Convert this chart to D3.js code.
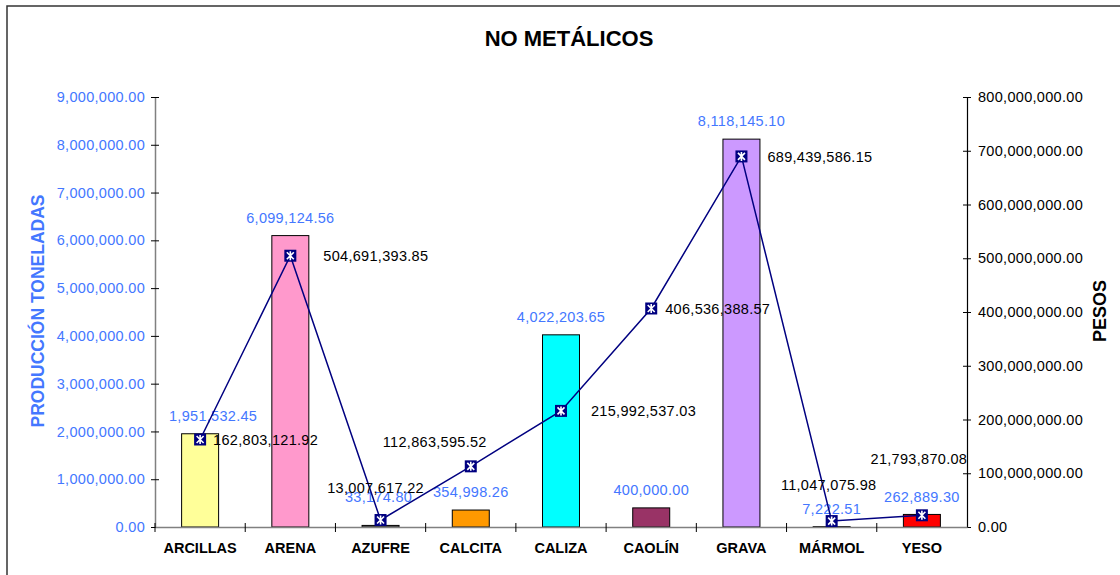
<!DOCTYPE html>
<html>
<head>
<meta charset="utf-8">
<script src="https://cdn.jsdelivr.net/npm/d3@7"></script>
<style>
  body { margin: 0; background: #fff; }
  svg { display: block; font-family: "Liberation Sans", Arial, sans-serif; }
</style>
</head>
<body>
<svg id="chart" width="1120" height="575"></svg>
<script>
// --- data ---
var categories = ['ARCILLAS', 'ARENA', 'AZUFRE', 'CALCITA', 'CALIZA', 'CAOLÍN', 'GRAVA', 'MÁRMOL', 'YESO'];
var toneladas = [1951532.45, 6099124.56, 33174.80, 354998.26, 4022203.65, 400000.00, 8118145.10, 7222.51, 262889.30];
var pesos = [162803121.92, 504691393.85, 13007617.22, 112863595.52, 215992537.03, 406536388.57, 689439586.15, 11047075.98, 21793870.08];
var toneladasTicks = [0, 1000000, 2000000, 3000000, 4000000, 5000000, 6000000, 7000000, 8000000, 9000000];
var pesosTicks = [0, 100000000, 200000000, 300000000, 400000000, 500000000, 600000000, 700000000, 800000000];

// --- look ---
var barColors = ['#FFFF99', '#FF99CC', '#808080', '#FF9900', '#00FFFF', '#993366', '#CC99FF', '#FFFFFF', '#FF0000'];
var blue = '#4477FF';
var navy = '#000080';
// manual label nudges (as moved by hand in the original)
var tonLabelNudge = [[13, 0], [0, 0], [-2, -10], [0, 0], [0, 0], [0, 0], [0, 0], [0, 0], [0, 0]];
var pesosLabelNudge = [[13, 0, 'start'], [33, 0, 'start'], [-5, -32, 'middle'], [-36, -24, 'middle'],
  [30, 0, 'start'], [14, 0, 'start'], [26, 0, 'start'], [-3, -36, 'middle'], [-3, -56, 'middle']];

var fmt = d3.format(',.2f');
var svg = d3.select('#chart');
var plotL = 155, plotR = 967, plotT = 97, plotB = 527;

// frame
svg.append('rect')
  .attr('x', 7).attr('y', 6)
  .attr('width', 1130).attr('height', 590)
  .attr('fill', 'none').attr('stroke', '#333').attr('stroke-width', 1.5);

var x = d3.scaleBand().domain(categories).range([plotL, plotR])
  .paddingInner(0.59).paddingOuter(0.295);
var yTon = d3.scaleLinear().domain([0, 9000000]).range([plotB, plotT]);
var yPes = d3.scaleLinear().domain([0, 800000000]).range([plotB, plotT]);

// left axis
var gl = svg.append('g').attr('transform', 'translate(' + plotL + ',0)')
  .call(d3.axisLeft(yTon).tickValues(toneladasTicks).tickFormat(fmt).tickSizeOuter(0));
gl.select('.domain').attr('stroke', '#808080').attr('stroke-width', 1.5);
gl.selectAll('.tick line').attr('x1', 4).attr('x2', -4).attr('stroke', '#000');
gl.selectAll('.tick text').attr('x', -10).attr('fill', blue)
  .style('font-size', '14.5px').style('letter-spacing', '0.3px');

// right axis
var gr = svg.append('g').attr('transform', 'translate(' + plotR + ',0)')
  .call(d3.axisRight(yPes).tickValues(pesosTicks).tickFormat(fmt).tickSizeOuter(0));
gr.select('.domain').attr('stroke', '#000').attr('stroke-width', 1.2);
gr.selectAll('.tick line').attr('x1', -4).attr('x2', 4).attr('stroke', '#000');
gr.selectAll('.tick text').attr('x', 11).attr('fill', '#000')
  .style('font-size', '14.5px').style('letter-spacing', '0.3px');

// bars
svg.append('g').selectAll('rect')
  .data(categories)
  .enter().append('rect')
    .attr('x', function(d) { return x(d); })
    .attr('y', function(d, i) { return yTon(toneladas[i]); })
    .attr('width', x.bandwidth())
    .attr('height', function(d, i) { return plotB - yTon(toneladas[i]); })
    .attr('fill', function(d, i) { return barColors[i]; })
    .attr('stroke', '#000').attr('stroke-width', 1);

// bottom axis
var gb = svg.append('g').attr('transform', 'translate(0,' + plotB + ')')
  .call(d3.axisBottom(x).tickSize(0).tickPadding(16));
gb.select('.domain').attr('stroke', '#808080').attr('stroke-width', 1.5);
gb.selectAll('.tick text').attr('fill', '#000')
  .style('font-size', '14.5px').style('font-weight', 'bold');
gb.selectAll('.sep')
  .data(d3.range(0, categories.length))
  .enter().append('line')
    .attr('x1', function(i) { return plotL + i * x.step(); })
    .attr('x2', function(i) { return plotL + i * x.step(); })
    .attr('y1', -4).attr('y2', 5)
    .attr('stroke', '#000');

// tonnage labels
svg.append('g').selectAll('text')
  .data(categories)
  .enter().append('text')
    .attr('x', function(d, i) { return x(d) + x.bandwidth() / 2 + tonLabelNudge[i][0]; })
    .attr('y', function(d, i) { return yTon(toneladas[i]) - 18 + tonLabelNudge[i][1]; })
    .attr('dy', '0.35em')
    .attr('text-anchor', 'middle')
    .attr('fill', blue)
    .style('font-size', '14.5px').style('letter-spacing', '0.3px')
    .text(function(d, i) { return fmt(toneladas[i]); });

// pesos line
var cx = function(d) { return x(d) + x.bandwidth() / 2; };
var line = d3.line()
  .x(function(d) { return cx(d); })
  .y(function(d, i) { return yPes(pesos[i]); });
svg.append('path')
  .datum(categories)
  .attr('d', line)
  .attr('fill', 'none').attr('stroke', navy).attr('stroke-width', 1.5);

// markers: navy square with white asterisk
var mk = svg.append('g').selectAll('g')
  .data(categories)
  .enter().append('g')
    .attr('transform', function(d, i) { return 'translate(' + cx(d) + ',' + yPes(pesos[i]) + ')'; });
mk.append('rect')
  .attr('x', -6).attr('y', -6).attr('width', 12).attr('height', 12)
  .attr('fill', navy);
mk.append('path')
  .attr('d', 'M-3.5,-3.5L3.5,3.5M-3.5,3.5L3.5,-3.5M0,-4.5L0,4.5')
  .attr('stroke', '#fff').attr('stroke-width', 1.6);

// pesos labels
svg.append('g').selectAll('text')
  .data(categories)
  .enter().append('text')
    .attr('x', function(d, i) { return cx(d) + pesosLabelNudge[i][0]; })
    .attr('y', function(d, i) { return yPes(pesos[i]) + pesosLabelNudge[i][1]; })
    .attr('dy', '0.35em')
    .attr('text-anchor', function(d, i) { return pesosLabelNudge[i][2]; })
    .attr('fill', '#000')
    .style('font-size', '14.5px').style('letter-spacing', '0.3px')
    .text(function(d, i) { return fmt(pesos[i]); });

// titles
svg.append('text')
  .attr('x', 569).attr('y', 46)
  .attr('text-anchor', 'middle')
  .style('font-size', '22px').style('font-weight', 'bold')
  .text('NO METÁLICOS');

svg.append('text')
  .attr('transform', 'translate(44,311) rotate(-90)')
  .attr('text-anchor', 'middle')
  .attr('fill', blue)
  .style('font-size', '17.5px').style('font-weight', 'bold')
  .text('PRODUCCIÓN TONELADAS');

svg.append('text')
  .attr('transform', 'translate(1106,311) rotate(-90)')
  .attr('text-anchor', 'middle')
  .style('font-size', '18px').style('font-weight', 'bold')
  .text('PESOS');
</script>
</body>
</html>
